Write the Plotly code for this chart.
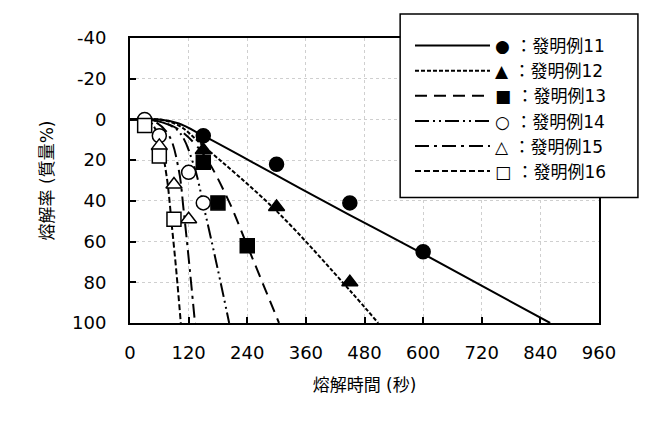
import plotly.graph_objects as go

# 測定点（熔解時間[秒], 熔解率[質量%]）
nomes = ['發明例11', '發明例12', '發明例13', '發明例14', '發明例15', '發明例16']
simbolos = ['●', '▲', '■', '○', '△', '□']

pts_x = [
    [150, 300, 450, 600],
    [150, 300, 450],
    [150, 180, 240],
    [30, 60, 120, 150],
    [60, 90, 120],
    [30, 60, 90],
]
pts_y = [
    [8, 22, 41, 65],
    [15, 43, 80],
    [21, 41, 62],
    [0, 8, 26, 41],
    [13, 32, 49],
    [3, 18, 49],
]

# 近似曲線
curva_x = [
    [0, 60, 100, 150, 300, 450, 600, 860],
    [0, 60, 100, 150, 300, 450, 508],
    [0, 60, 100, 150, 200, 240, 305],
    [0, 60, 100, 130, 153, 180, 203],
    [0, 50, 80, 100, 110, 120, 133],
    [0, 40, 60, 75, 86, 95, 104],
]
curva_y = [
    [0, 0, 2, 8, 27.5, 47, 66, 100],
    [0, 0, 3, 13, 45, 84, 100],
    [0, 1, 5, 17, 39, 62, 100],
    [0, 1, 6, 22, 45, 74, 100],
    [0, 1, 8, 25, 45, 68, 100],
    [0, 1, 10, 28, 53, 75, 100],
]

x_ticks = [0, 120, 240, 360, 480, 600, 720, 840, 960]
y_ticks = [-40, -20, 0, 20, 40, 60, 80, 100]
y_ticktext = ['-40', '-20', '0', '20', '40', '60', '80', '100']

tracos = ['solid', '4px,2px', '12px,7px', '14px,4px,2px,4px,2px,4px', '14px,5px,3px,5px', '6px,3px']
marcadores = ['circle', 'triangle-up', 'square', 'circle-open', 'triangle-up-open', 'square-open']

fonte = 'DejaVu Sans, Noto Sans CJK JP'

fig = go.Figure()

for i in range(6):
    fig.add_trace(go.Scatter(
        x=curva_x[i], y=curva_y[i], mode='lines', line_shape='spline',
        line=dict(color='black', width=2, dash=tracos[i]),
        name=simbolos[i] + ' ：' + nomes[i]))

for i in range(6):
    aberto = marcadores[i].endswith('open')
    fig.add_trace(go.Scatter(
        x=pts_x[i], y=pts_y[i], mode='markers', showlegend=False,
        marker=dict(symbol=marcadores[i].replace('-open', ''), size=14,
                    color='white' if aberto else 'black',
                    line=dict(color='black', width=1.5)),
        cliponaxis=False))

# caixa da legenda
fig.add_shape(type='rect', xref='paper', yref='paper',
              x0=0.576, x1=1.083, y0=0.44, y1=1.084,
              line=dict(color='black', width=1.5), fillcolor='white', layer='above')

fig.update_layout(
    width=662, height=425,
    margin=dict(l=122, r=71, t=30, b=110),
    plot_bgcolor='white', paper_bgcolor='white',
    font=dict(family=fonte, color='black', size=18),
    legend=dict(x=0.597, y=1.035, xanchor='left', yanchor='top',
                bgcolor='rgba(0,0,0,0)', borderwidth=0,
                itemwidth=75,
                font=dict(size=17, family=fonte)),
)

fig.update_xaxes(range=[0, 960], tickvals=x_ticks, ticks='inside', ticklen=6,
                 tickwidth=1.5, tickcolor='black',
                 showline=True, linecolor='black', linewidth=2, mirror=True,
                 showgrid=True, gridcolor='#cfcfcf', griddash='dot', gridwidth=1,
                 zeroline=False, ticklabelstandoff=12,
                 title=dict(text='熔解時間 (秒)', font=dict(size=17), standoff=18))
fig.update_yaxes(range=[100, -40], tickvals=y_ticks, ticktext=y_ticktext,
                 ticks='inside', ticklen=6, tickwidth=1.5, tickcolor='black',
                 showline=True, linecolor='black', linewidth=2, mirror=True,
                 showgrid=True, gridcolor='#cfcfcf', griddash='dot', gridwidth=1,
                 zeroline=False, ticklabelstandoff=18,
                 title=dict(text='熔解率 (質量%)', font=dict(size=17), standoff=14))

fig.write_html('out.html')
